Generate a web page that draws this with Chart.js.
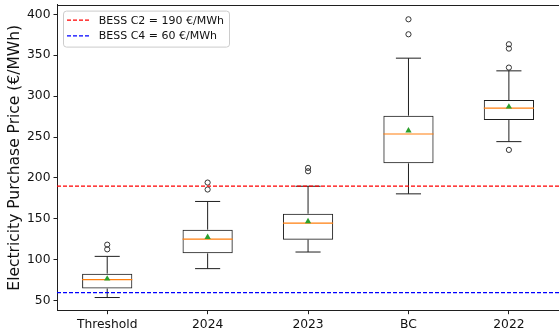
<!DOCTYPE html>
<html>
<head>
<meta charset="utf-8">
<script src="https://cdn.jsdelivr.net/npm/chart.js@4.4.1/dist/chart.umd.min.js"></script>
<style>
  html, body { margin: 0; padding: 0; background: #fff; overflow: hidden; }
  #wrap { width: 564px; height: 332px; }
</style>
</head>
<body>
<div id="wrap"><canvas id="c" width="564" height="332"></canvas></div>
<script>
// Box-plot summaries of electricity purchase price per scenario (€/MWh)
const categories   = ['Threshold', '2024', '2023', 'BC', '2022'];
const whiskerLow   = [53.9, 89.2, 109.5, 180.6, 244.4];
const quartile1    = [64.9, 107.9, 124.6, 217.9, 270.8];
const medians      = [75.8, 125.3, 144.8, 253.7, 285.4];
const quartile3    = [83.1, 136.8, 156.3, 276.1, 295.2];
const whiskerHigh  = [104.2, 171.3, 189.9, 346.4, 330.9];
const means        = [76.8, 127.7, 146.9, 257.8, 287.0];
const outliers     = [
  [112.8, 118.5],
  [185.9, 194.4],
  [208.2, 212.3],
  [375.6, 393.9],
  [234.3, 334.9, 358.1, 363.4]
];
// Reference battery storage cost levels
const refNames  = ['BESS C2', 'BESS C4'];
const refValues = [190, 60];
const refColors = ['#ff0000', '#0000ff'];
const yTicks = [50, 100, 150, 200, 250, 300, 350, 400];

const BOX_HALF = 0.25;   // box half-width in category units
const CAP_HALF = 0.125;  // whisker cap half-width
const EDGE = '#1f1f1f';

// Build segment lists (separated by gaps) for whiskers, caps and medians
const gap = x => ({ x: x, y: null });
const whiskerPts = [], capPts = [], medianPts = [];
categories.forEach((c, i) => {
  const x = i + 1;
  whiskerPts.push({ x, y: whiskerLow[i] }, { x, y: quartile1[i] }, gap(x));
  whiskerPts.push({ x, y: quartile3[i] }, { x, y: whiskerHigh[i] }, gap(x));
  capPts.push({ x: x - CAP_HALF, y: whiskerLow[i] }, { x: x + CAP_HALF, y: whiskerLow[i] }, gap(x));
  capPts.push({ x: x - CAP_HALF, y: whiskerHigh[i] }, { x: x + CAP_HALF, y: whiskerHigh[i] }, gap(x));
  medianPts.push({ x: x - BOX_HALF, y: medians[i] }, { x: x + BOX_HALF, y: medians[i] }, gap(x));
});
const outlierPts = [];
outliers.forEach((list, i) => list.forEach(v => outlierPts.push({ x: i + 1, y: v })));

const refDatasets = refValues.map((v, k) => ({
  type: 'line',
  label: `${refNames[k]} = ${v} €/MWh`,
  data: [{ x: 0.5, y: v }, { x: categories.length + 0.5, y: v }],
  borderColor: refColors[k],
  borderWidth: 1.2,
  borderDash: [4, 2],
  pointRadius: 0,
  order: 0
}));

// Legend in the upper-left corner of the plot, framed
const legendBox = {
  id: 'legendBox',
  afterDatasetsDraw(chart) {
    const { ctx, chartArea } = chart;
    const x0 = chartArea.left + 6, y0 = chartArea.top + 5.7;
    const w = 166, h = 36, r = 3;
    ctx.save();
    ctx.beginPath();
    ctx.roundRect(x0 + 0.5, y0 + 0.5, w, h, r);
    ctx.fillStyle = 'rgba(255,255,255,0.8)';
    ctx.fill();
    ctx.strokeStyle = '#cccccc';
    ctx.lineWidth = 1;
    ctx.stroke();
    ctx.font = '11px "DejaVu Sans"';
    ctx.textBaseline = 'middle';
    ctx.textAlign = 'left';
    refDatasets.forEach((ds, k) => {
      const y = y0 + 9.6 + k * 15.7;
      ctx.beginPath();
      ctx.setLineDash([4, 2]);
      ctx.strokeStyle = ds.borderColor;
      ctx.lineWidth = 1.2;
      ctx.moveTo(x0 + 4, y);
      ctx.lineTo(x0 + 27, y);
      ctx.stroke();
      ctx.setLineDash([]);
      ctx.fillStyle = '#111';
      ctx.fillText(ds.label, x0 + 35.7, y + 0.5);
    });
    ctx.restore();
  }
};

// Top spine of the axes frame
const topSpine = {
  id: 'topSpine',
  afterDraw(chart) {
    const { ctx, chartArea } = chart;
    ctx.save();
    ctx.strokeStyle = EDGE;
    ctx.lineWidth = 1;
    ctx.beginPath();
    ctx.moveTo(chartArea.left, Math.round(chartArea.top) + 0.5);
    ctx.lineTo(chartArea.right, Math.round(chartArea.top) + 0.5);
    ctx.stroke();
    ctx.restore();
  }
};

Chart.defaults.font.family = '"DejaVu Sans", sans-serif';
Chart.defaults.color = '#111';

new Chart(document.getElementById('c'), {
  type: 'bar',
  data: {
    datasets: [
      ...refDatasets,
      {
        type: 'scatter',
        data: categories.map((c, i) => ({ x: i + 1, y: means[i] })),
        pointStyle: 'triangle',
        pointRadius: 3.6,
        backgroundColor: '#2ca02c',
        borderColor: '#2ca02c',
        borderWidth: 0,
        order: 1
      },
      {
        type: 'scatter',
        data: outlierPts,
        pointStyle: 'circle',
        pointRadius: 2.6,
        backgroundColor: 'rgba(0,0,0,0)',
        borderColor: EDGE,
        borderWidth: 0.9,
        order: 1
      },
      {
        type: 'line',
        data: medianPts,
        borderColor: '#ff7f0e',
        borderWidth: 1.1,
        pointRadius: 0,
        spanGaps: false,
        order: 2
      },
      {
        type: 'line',
        data: whiskerPts,
        borderColor: EDGE,
        borderWidth: 1,
        pointRadius: 0,
        spanGaps: false,
        order: 3
      },
      {
        type: 'line',
        data: capPts,
        borderColor: EDGE,
        borderWidth: 1,
        pointRadius: 0,
        spanGaps: false,
        order: 3
      },
      {
        type: 'bar',
        data: categories.map((c, i) => ({ x: i + 1, y: [quartile1[i], quartile3[i]] })),
        backgroundColor: 'rgba(0,0,0,0)',
        borderColor: EDGE,
        borderWidth: 1,
        borderSkipped: false,
        categoryPercentage: 1,
        barPercentage: 2 * BOX_HALF,
        order: 4
      }
    ]
  },
  options: {
    responsive: false,
    animation: false,
    events: [],
    layout: { padding: { top: 4, left: 0, right: 0, bottom: 0 } },
    plugins: { legend: { display: false }, tooltip: { enabled: false } },
    scales: {
      x: {
        type: 'linear',
        min: 0.5,
        max: categories.length + 0.5,
        offset: false,
        afterBuildTicks: s => { s.ticks = categories.map((c, i) => ({ value: i + 1 })); },
        afterFit: s => { s.height = 21.3; s.paddingLeft = 0; s.paddingRight = 0; },
        ticks: {
          autoSkip: false,
          maxRotation: 0,
          padding: 3,
          font: { size: 12.3 },
          color: '#111',
          callback: v => categories[Math.round(v) - 1]
        },
        grid: { display: true, offset: false, drawOnChartArea: false, drawTicks: true, tickLength: 3.5, tickColor: EDGE, lineWidth: 1 },
        border: { display: true, color: EDGE, width: 1 }
      },
      y: {
        type: 'linear',
        min: 37.8,
        max: 411.5,
        afterBuildTicks: s => { s.ticks = yTicks.map(v => ({ value: v })); },
        afterFit: s => { s.width = 57; s.paddingTop = 0; s.paddingBottom = 0; },
        ticks: { padding: 3, font: { size: 12.3 }, color: '#111' },
        grid: { display: true, drawOnChartArea: false, drawTicks: true, tickLength: 3.5, tickColor: EDGE, lineWidth: 1 },
        border: { display: true, color: EDGE, width: 1 },
        title: {
          display: true,
          text: 'Electricity Purchase Price (€/MWh)',
          font: { size: 15.5 },
          color: '#111',
          padding: { top: 5.5, bottom: 0 }
        }
      }
    }
  },
  plugins: [legendBox, topSpine]
});
</script>
</body>
</html>
